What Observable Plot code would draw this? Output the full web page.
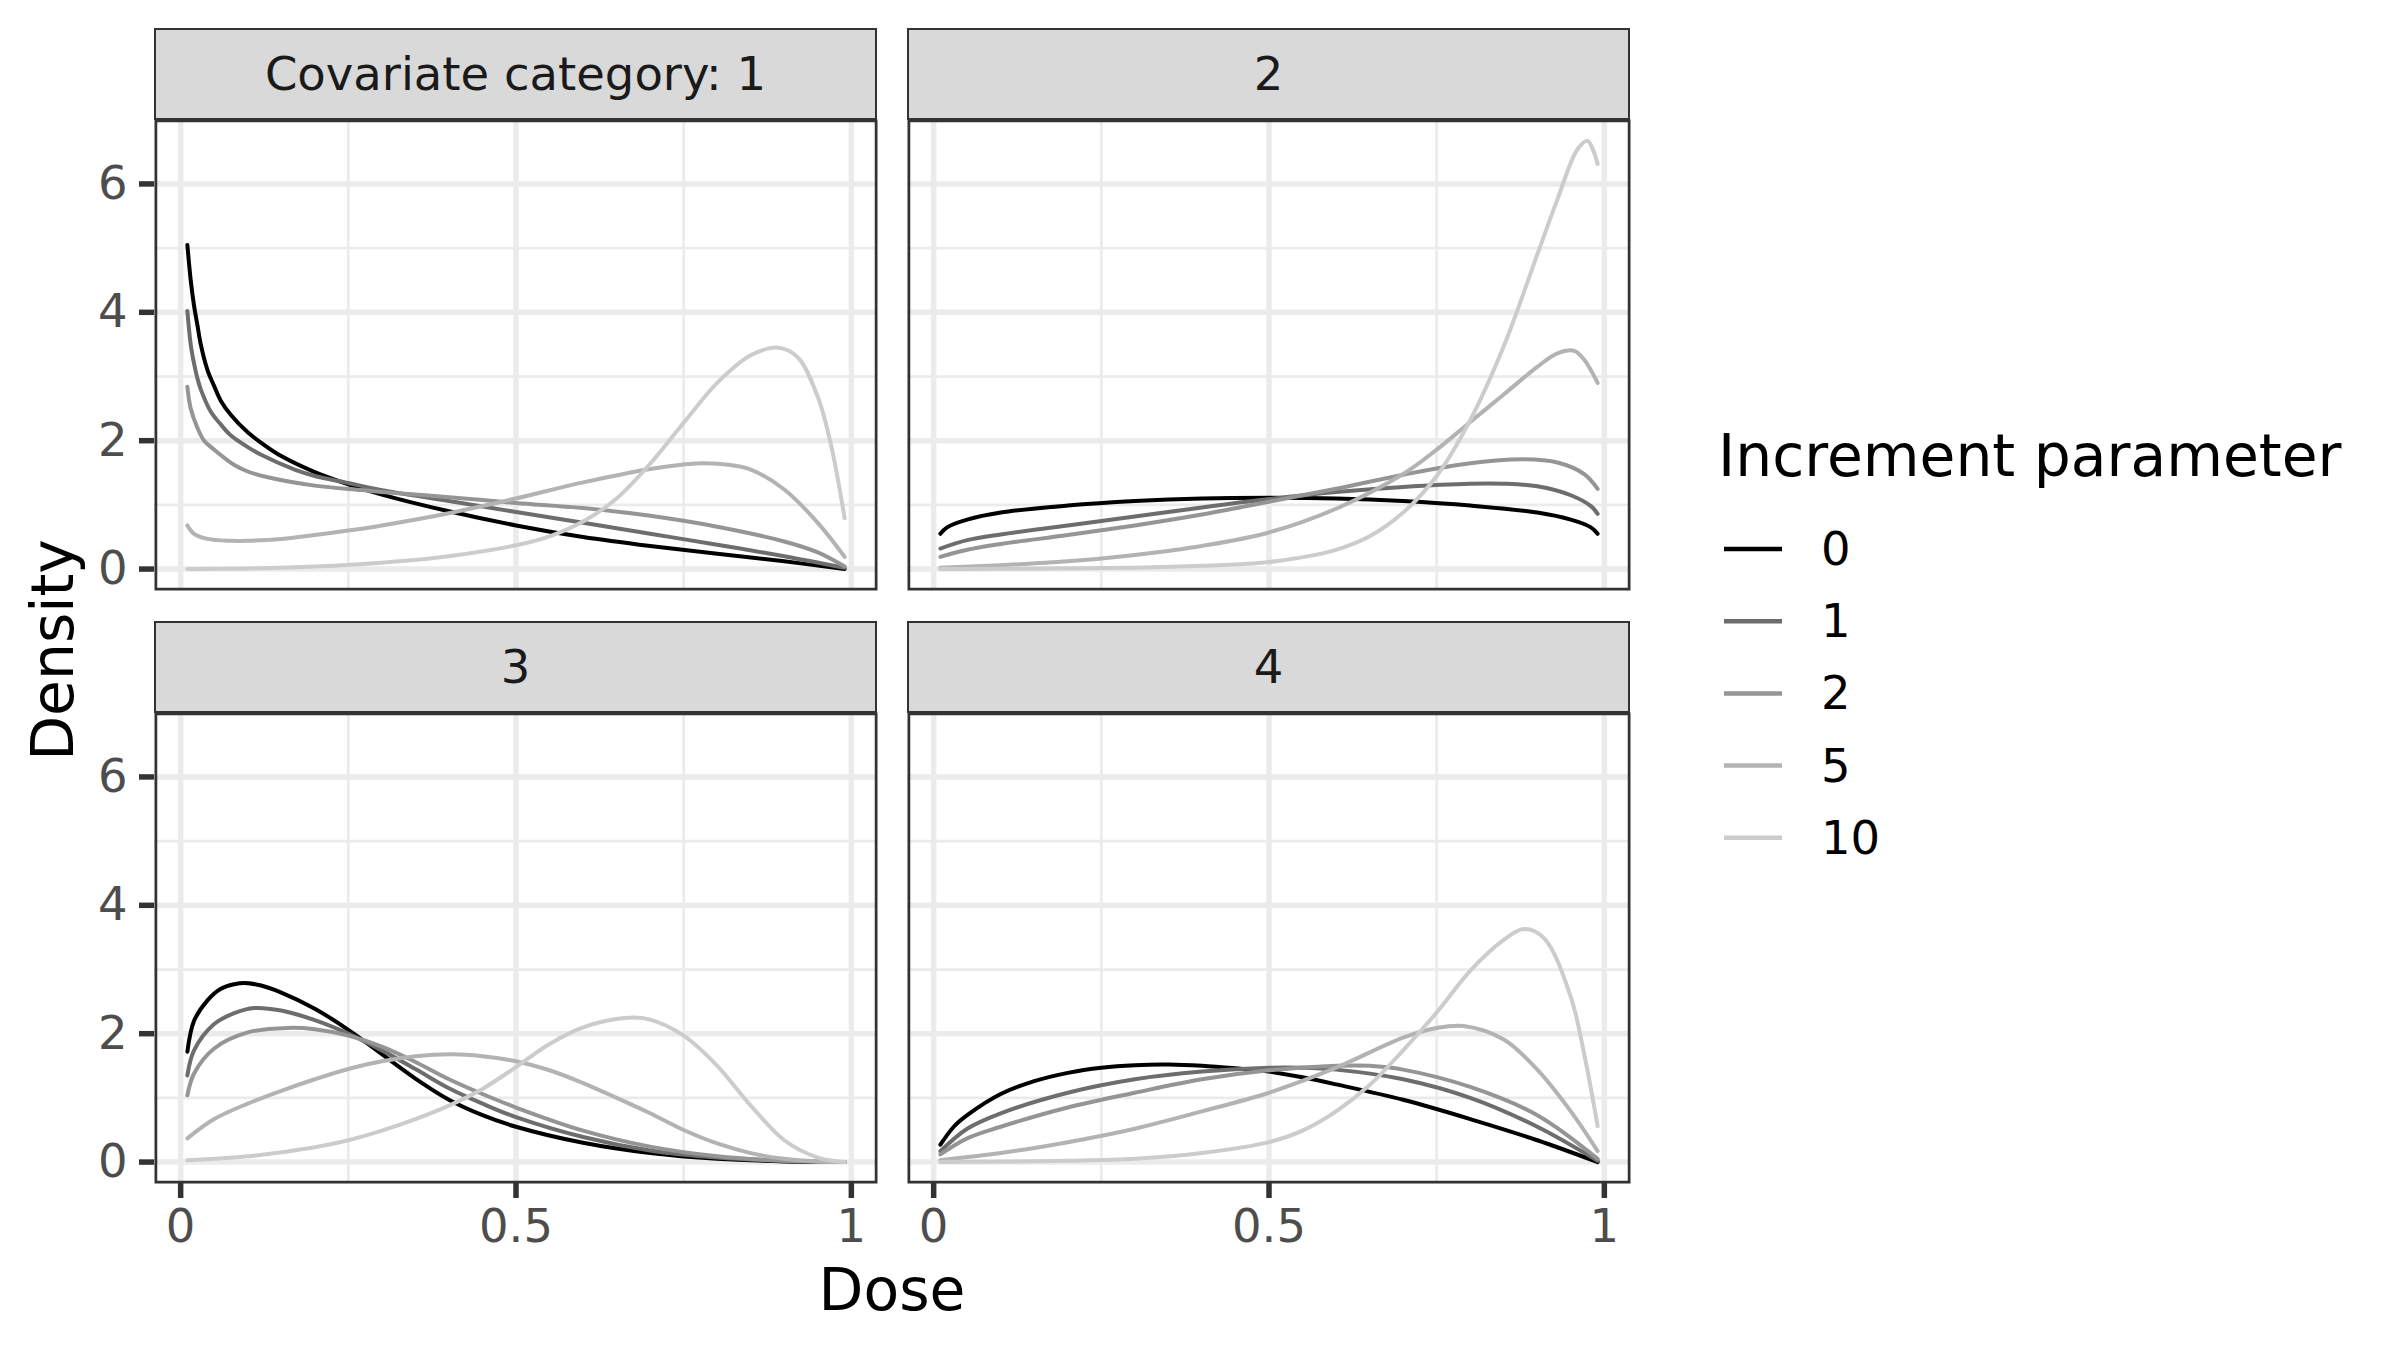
<!DOCTYPE html>
<html>
<head>
<meta charset="utf-8">
<script src="https://cdn.jsdelivr.net/npm/d3@7"></script>
<script src="https://cdn.jsdelivr.net/npm/@observablehq/plot@0.6"></script>
<style>
  html, body { margin: 0; padding: 0; background: #fff; }
  #chart { position: relative; width: 2400px; height: 1350px; background: #fff; font-family: "DejaVu Sans", sans-serif; overflow: hidden; }
  .panel { position: absolute; }
  .strip { position: absolute; box-sizing: border-box; background: #D9D9D9; border: 2.75px solid #333333;
           display: flex; align-items: center; justify-content: center; font-size: 46.5px; color: #1A1A1A; }
  .lbl { position: absolute; white-space: nowrap; line-height: 1; }
</style>
</head>
<body>
<div id="chart"></div>
<script>
// ---------------- data ----------------
const panelLabels = ["Covariate category: 1", "2", "3", "4"];
const increments = [0, 1, 2, 5, 10];
const greys = ["#000000", "#6D6D6D", "#959595", "#B3B3B3", "#CCCCCC"];
const xMajorTicks = [0, 0.5, 1];
const xMinorTicks = [0.25, 0.75];
const yMajorTicks = [0, 2, 4, 6];
const yMinorTicks = [1, 3, 5];
const xTickLabels = ["0", "0.5", "1"];

// [dose, density] pairs per covariate category and increment parameter
const cat1_inc0 = [[0.01,5.05],[0.015,4.5],[0.02,4.1],[0.025,3.8],[0.03,3.5],[0.04,3.1],[0.05,2.85],[0.06,2.62],[0.075,2.4],[0.1,2.13],[0.125,1.93],[0.15,1.76],[0.2,1.51],[0.25,1.32],[0.3,1.16],[0.4,0.9],[0.5,0.68],[0.6,0.5],[0.7,0.36],[0.8,0.24],[0.9,0.12],[0.99,0.0]];
const cat1_inc1 = [[0.01,4.02],[0.015,3.5],[0.02,3.2],[0.025,2.97],[0.03,2.8],[0.045,2.45],[0.06,2.25],[0.075,2.08],[0.1,1.9],[0.12,1.78],[0.17,1.55],[0.2,1.45],[0.25,1.34],[0.3,1.23],[0.4,1.06],[0.5,0.89],[0.6,0.72],[0.7,0.55],[0.8,0.38],[0.9,0.2],[0.99,0.02]];
const cat1_inc2 = [[0.01,2.84],[0.015,2.5],[0.025,2.2],[0.035,2.0],[0.05,1.86],[0.08,1.62],[0.1,1.52],[0.13,1.43],[0.2,1.3],[0.27,1.23],[0.3,1.2],[0.4,1.12],[0.5,1.03],[0.6,0.95],[0.7,0.83],[0.8,0.66],[0.9,0.43],[0.95,0.26],[0.99,0.04]];
const cat1_inc5 = [[0.01,0.68],[0.02,0.55],[0.04,0.47],[0.075,0.44],[0.1,0.44],[0.15,0.47],[0.2,0.53],[0.25,0.6],[0.3,0.68],[0.4,0.87],[0.5,1.1],[0.6,1.35],[0.7,1.56],[0.75,1.63],[0.78,1.65],[0.82,1.62],[0.85,1.55],[0.9,1.24],[0.95,0.72],[0.99,0.19]];
const cat1_inc10 = [[0.01,0.0],[0.1,0.01],[0.2,0.04],[0.3,0.1],[0.4,0.2],[0.5,0.37],[0.55,0.51],[0.6,0.74],[0.65,1.1],[0.7,1.64],[0.75,2.28],[0.8,2.9],[0.85,3.33],[0.89,3.45],[0.92,3.3],[0.95,2.68],[0.97,1.92],[0.99,0.79]];

const cat2_inc0 = [[0.01,0.55],[0.02,0.65],[0.05,0.77],[0.1,0.88],[0.2,0.99],[0.3,1.06],[0.4,1.1],[0.5,1.11],[0.6,1.1],[0.7,1.06],[0.8,0.99],[0.9,0.88],[0.95,0.77],[0.98,0.65],[0.99,0.55]];
const cat2_inc1 = [[0.01,0.32],[0.05,0.45],[0.1,0.54],[0.2,0.68],[0.3,0.82],[0.4,0.96],[0.5,1.09],[0.6,1.2],[0.7,1.28],[0.8,1.33],[0.85,1.33],[0.9,1.29],[0.95,1.15],[0.98,0.98],[0.99,0.86]];
const cat2_inc2 = [[0.01,0.19],[0.05,0.3],[0.1,0.39],[0.2,0.53],[0.3,0.68],[0.4,0.85],[0.5,1.05],[0.6,1.25],[0.7,1.47],[0.8,1.65],[0.88,1.71],[0.93,1.66],[0.97,1.48],[0.99,1.25]];
const cat2_inc5 = [[0.01,0.02],[0.1,0.06],[0.2,0.12],[0.3,0.22],[0.4,0.36],[0.5,0.57],[0.6,0.94],[0.7,1.48],[0.75,1.86],[0.8,2.29],[0.85,2.72],[0.9,3.15],[0.93,3.36],[0.955,3.4],[0.97,3.26],[0.99,2.9]];
const cat2_inc10 = [[0.01,0.0],[0.3,0.02],[0.4,0.05],[0.5,0.11],[0.6,0.3],[0.65,0.51],[0.7,0.88],[0.75,1.45],[0.8,2.32],[0.85,3.47],[0.9,4.9],[0.93,5.76],[0.96,6.54],[0.975,6.67],[0.99,6.31]];

const cat3_inc0 = [[0.01,1.72],[0.02,2.2],[0.04,2.52],[0.06,2.7],[0.08,2.77],[0.095,2.79],[0.12,2.75],[0.15,2.64],[0.2,2.39],[0.25,2.06],[0.3,1.68],[0.35,1.3],[0.4,0.97],[0.45,0.73],[0.5,0.55],[0.6,0.3],[0.7,0.14],[0.8,0.05],[0.9,0.01],[0.99,0.0]];
const cat3_inc1 = [[0.01,1.35],[0.02,1.74],[0.05,2.15],[0.08,2.32],[0.11,2.4],[0.15,2.36],[0.2,2.21],[0.25,2.0],[0.3,1.74],[0.35,1.45],[0.4,1.15],[0.45,0.91],[0.5,0.7],[0.6,0.39],[0.7,0.18],[0.8,0.07],[0.9,0.02],[0.99,0.0]];
const cat3_inc2 = [[0.01,1.04],[0.02,1.38],[0.05,1.77],[0.1,2.02],[0.16,2.09],[0.2,2.07],[0.25,1.97],[0.3,1.8],[0.35,1.56],[0.4,1.29],[0.45,1.06],[0.5,0.85],[0.6,0.49],[0.7,0.24],[0.8,0.09],[0.9,0.02],[0.99,0.0]];
const cat3_inc5 = [[0.01,0.37],[0.05,0.67],[0.1,0.91],[0.15,1.11],[0.2,1.29],[0.25,1.45],[0.3,1.57],[0.35,1.65],[0.405,1.68],[0.45,1.65],[0.5,1.57],[0.55,1.43],[0.6,1.23],[0.65,1.0],[0.7,0.76],[0.75,0.5],[0.8,0.29],[0.85,0.14],[0.9,0.05],[0.95,0.01],[0.99,0.0]];
const cat3_inc10 = [[0.01,0.03],[0.1,0.09],[0.2,0.23],[0.25,0.34],[0.3,0.49],[0.35,0.67],[0.4,0.88],[0.45,1.14],[0.5,1.48],[0.55,1.84],[0.6,2.1],[0.668,2.25],[0.7,2.22],[0.75,1.97],[0.8,1.5],[0.85,0.88],[0.9,0.34],[0.95,0.07],[0.99,0.0]];

const cat4_inc0 = [[0.01,0.27],[0.03,0.55],[0.05,0.73],[0.1,1.06],[0.15,1.26],[0.2,1.39],[0.25,1.47],[0.3,1.51],[0.35,1.52],[0.4,1.5],[0.45,1.46],[0.5,1.41],[0.55,1.32],[0.6,1.21],[0.7,0.97],[0.8,0.67],[0.9,0.34],[0.99,0.0]];
const cat4_inc1 = [[0.01,0.17],[0.05,0.52],[0.1,0.76],[0.2,1.08],[0.3,1.29],[0.4,1.41],[0.5,1.47],[0.55,1.47],[0.6,1.44],[0.7,1.29],[0.8,1.0],[0.9,0.55],[0.99,0.02]];
const cat4_inc2 = [[0.01,0.12],[0.05,0.37],[0.1,0.55],[0.2,0.85],[0.3,1.08],[0.4,1.29],[0.5,1.43],[0.6,1.5],[0.65,1.5],[0.7,1.44],[0.8,1.17],[0.9,0.73],[0.99,0.05]];
const cat4_inc5 = [[0.01,0.03],[0.1,0.14],[0.2,0.31],[0.3,0.52],[0.4,0.79],[0.5,1.08],[0.6,1.47],[0.7,1.94],[0.75,2.09],[0.79,2.12],[0.85,1.91],[0.9,1.44],[0.95,0.79],[0.99,0.17]];
const cat4_inc10 = [[0.01,0.0],[0.2,0.02],[0.3,0.05],[0.4,0.14],[0.5,0.31],[0.55,0.49],[0.6,0.79],[0.65,1.2],[0.7,1.74],[0.75,2.33],[0.8,2.98],[0.85,3.46],[0.88,3.63],[0.91,3.49],[0.95,2.57],[0.97,1.68],[0.99,0.56]];

// ---------------- assembly ----------------
const seriesByPanel = [
  [cat1_inc0, cat1_inc1, cat1_inc2, cat1_inc5, cat1_inc10],
  [cat2_inc0, cat2_inc1, cat2_inc2, cat2_inc5, cat2_inc10],
  [cat3_inc0, cat3_inc1, cat3_inc2, cat3_inc5, cat3_inc10],
  [cat4_inc0, cat4_inc1, cat4_inc2, cat4_inc5, cat4_inc10]
];

const chart = document.getElementById("chart");
const PW = 723, PH = 471;
const colLeft = [154, 907];
const rowStripTop = [28, 621];
const stripH = 91;
const FONT = "DejaVu Sans, sans-serif";
const SMALL = 46.5, LARGE = 58.3;

function makePanel(p) {
  const col = p % 2, row = Math.floor(p / 2);
  const showY = col === 0, showX = row === 1;
  const ml = showY ? colLeft[0] : 0;
  const mb = showX ? 80 : 0;
  const rows = [];
  seriesByPanel[p].forEach((s, j) => s.forEach(([d, v]) => rows.push({dose: d, density: v, inc: increments[j]})));
  const marks = [
    Plot.ruleX(xMinorTicks, {stroke: "#EBEBEB", strokeWidth: 2.75}),
    Plot.ruleY(yMinorTicks, {stroke: "#EBEBEB", strokeWidth: 2.75}),
    Plot.ruleX(xMajorTicks, {stroke: "#EBEBEB", strokeWidth: 5.5}),
    Plot.ruleY(yMajorTicks, {stroke: "#EBEBEB", strokeWidth: 5.5}),
    Plot.line(rows, {x: "dose", y: "density", z: "inc", stroke: "inc", strokeWidth: 4, curve: "catmull-rom"}),
    Plot.frame({stroke: "#333333", strokeWidth: 2.75, inset: 1.375})
  ];
  if (showY) marks.push(Plot.axisY({ticks: yMajorTicks, tickSize: 15, tickPadding: 12, fontSize: SMALL,
    stroke: "#333333", strokeWidth: 5.5, fill: "#4D4D4D", label: null, tickFormat: d => String(d)}));
  if (showX) marks.push(Plot.axisX({ticks: xMajorTicks, tickSize: 15, tickPadding: 10, fontSize: SMALL,
    stroke: "#333333", strokeWidth: 5.5, fill: "#4D4D4D", label: null,
    tickFormat: d => xTickLabels[xMajorTicks.indexOf(d)]}));
  const svg = Plot.plot({
    width: ml + PW, height: PH + mb,
    marginLeft: ml, marginRight: 0, marginTop: 0, marginBottom: mb,
    x: {domain: [-0.039, 1.039], axis: null},
    y: {domain: [-0.334, 7.004], axis: null},
    color: {type: "ordinal", domain: increments, range: greys},
    style: {fontFamily: FONT, background: "transparent", overflow: "visible"},
    marks
  });
  svg.classList.add("panel");
  svg.style.left = (showY ? 0 : colLeft[col]) + "px";
  svg.style.top = (rowStripTop[row] + stripH) + "px";
  chart.appendChild(svg);

  const strip = document.createElement("div");
  strip.className = "strip";
  strip.style.left = colLeft[col] + "px";
  strip.style.top = rowStripTop[row] + "px";
  strip.style.width = PW + "px";
  strip.style.height = (stripH + 1) + "px";
  strip.textContent = panelLabels[p];
  chart.appendChild(strip);
}
for (let p = 0; p < 4; p++) makePanel(p);

function label(text, x, y, size, opts = {}) {
  const el = document.createElement("div");
  el.className = "lbl";
  el.textContent = text;
  el.style.fontSize = size + "px";
  el.style.color = opts.color || "#000";
  el.style.left = x + "px";
  el.style.top = y + "px";
  el.style.transform = opts.transform || "translate(-50%, -50%)";
  chart.appendChild(el);
  return el;
}
label("Dose", 892, 1290, LARGE);
label("Density", 53, 650, LARGE, {transform: "translate(-50%, -50%) rotate(-90deg)"});

// legend
label("Increment parameter", 1718, 456, LARGE, {transform: "translate(0, -50%)"});
const legendSvg = d3.create("svg").attr("width", 70).attr("height", 400)
  .style("position", "absolute").style("left", "1720px").style("top", "523px");
increments.forEach((inc, i) => {
  const y = 26 + i * 72.2;
  legendSvg.append("line").attr("x1", 4).attr("x2", 62).attr("y1", y).attr("y2", y)
    .attr("stroke", greys[i]).attr("stroke-width", 4.5);
  label(String(inc), 1821, 523 + y, SMALL, {transform: "translate(0, -50%)"});
});
chart.appendChild(legendSvg.node());
</script>
</body>
</html>
